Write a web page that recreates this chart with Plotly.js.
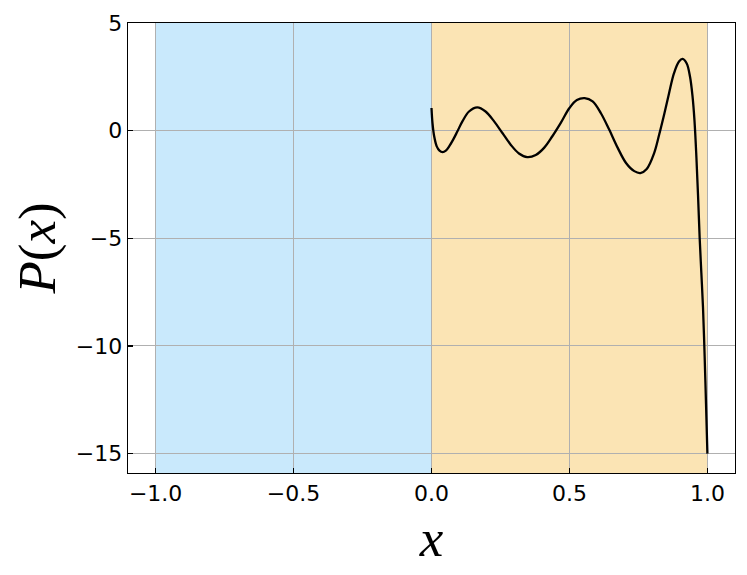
<!DOCTYPE html>
<html>
<head>
<meta charset="utf-8">
<script src="https://cdn.plot.ly/plotly-3.0.1.min.js"></script>
<style>html,body{margin:0;padding:0;background:#fff;}#chart{width:747px;height:575px;}</style>
</head>
<body>
<div id="chart"></div>
<script>
// Curve samples
const xVals = [0.0, 0.0036, 0.0097, 0.019, 0.029, 0.040, 0.052, 0.064, 0.078, 0.094, 0.112, 0.136, 0.166, 0.196, 0.227, 0.257, 0.287, 0.317, 0.347, 0.378, 0.408, 0.438, 0.468, 0.500, 0.527, 0.555, 0.584, 0.614, 0.644, 0.675, 0.705, 0.735, 0.757, 0.780, 0.807, 0.825, 0.843, 0.861, 0.879, 0.897, 0.910, 0.925, 0.937, 0.946, 0.953, 0.960, 0.966, 0.972, 0.978, 0.984, 0.990, 0.995, 1.0];
const yVals = [1.05, 0.35, -0.26, -0.73, -0.93, -1.0, -0.93, -0.73, -0.43, -0.03, 0.43, 0.89, 1.08, 0.89, 0.43, -0.11, -0.65, -1.06, -1.23, -1.13, -0.80, -0.26, 0.35, 1.05, 1.42, 1.51, 1.36, 0.81, 0.05, -0.80, -1.50, -1.88, -1.97, -1.78, -1.04, -0.19, 0.74, 1.74, 2.67, 3.21, 3.33, 3.12, 2.50, 1.60, 0.50, -1.20, -3.00, -5.00, -6.60, -8.20, -10.50, -12.70, -15.0];
// Shaded intervals
const regionStart = [-1, 0];
const regionEnd = [0, 1];
const regionColors = ['#c9e9fc', '#fbe4b4'];
const xTicks = [-1.0, -0.5, 0.0, 0.5, 1.0];
const xTickText = ['\u22121.0', '\u22120.5', '0.0', '0.5', '1.0'];
const yTicks = [5, 0, -5, -10, -15];
const yTickText = ['5', '0', '\u22125', '\u221210', '\u221215'];

const shapes = regionStart.map((s, i) => ({
  type: 'rect', xref: 'x', yref: 'paper', x0: s, x1: regionEnd[i], y0: 0, y1: 1,
  fillcolor: regionColors[i], line: {width: 0}, layer: 'below'
}));

const trace = {
  x: xVals, y: yVals, type: 'scatter', mode: 'lines',
  line: {color: '#000', width: 2.3, shape: 'spline', smoothing: 1},
  hoverinfo: 'skip'
};

const axisCommon = {
  showline: true, mirror: true, linecolor: '#000', linewidth: 1.3,
  ticks: 'inside', ticklen: 5, tickwidth: 1.2, tickcolor: '#000',
  showgrid: true, gridcolor: '#b0b0b0', gridwidth: 1, zeroline: false,
  tickfont: {family: 'DejaVu Sans', size: 22, color: '#000'}
};

const layout = {
  width: 747, height: 575,
  margin: {l: 128, r: 11, t: 21, b: 102},
  paper_bgcolor: '#fff', plot_bgcolor: '#fff',
  showlegend: false,
  shapes: shapes,
  xaxis: Object.assign({}, axisCommon, {
    range: [-1.1, 1.1], tickmode: 'array', tickvals: xTicks, ticktext: xTickText,
    title: {text: '<i>x</i>', font: {family: 'Liberation Serif', size: 53, color: '#000'}, standoff: 14}
  }),
  yaxis: Object.assign({}, axisCommon, {
    range: [-15.9, 5], tickmode: 'array', tickvals: yTicks, ticktext: yTickText,
    automargin: true,
    title: {text: '<i>P</i>(<i>x</i>)', font: {family: 'Liberation Serif', size: 53, color: '#000'}, standoff: 3}
  })
};

Plotly.newPlot('chart', [trace], layout, {displayModeBar: false, staticPlot: true});
</script>
</body>
</html>
